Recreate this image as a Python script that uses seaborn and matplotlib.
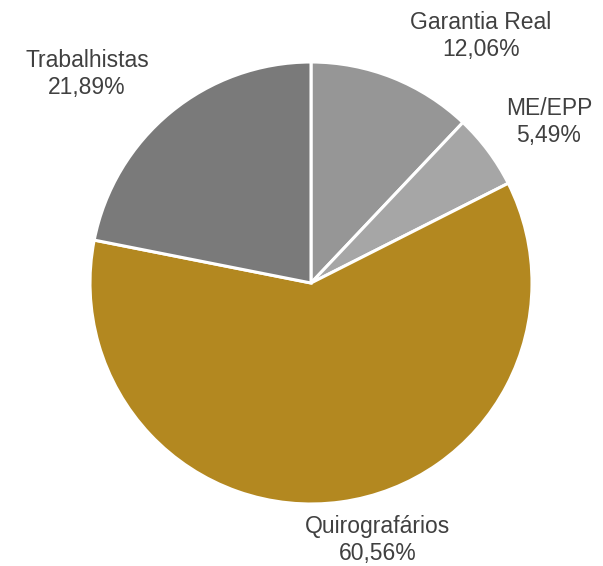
import matplotlib
matplotlib.use("Agg")
import matplotlib.pyplot as plt
import seaborn as sns

categories = ["Garantia Real", "ME/EPP", "Quirografários", "Trabalhistas"]
values = [12.06, 5.49, 60.56, 21.89]
labels_pct = ["12,06%", "5,49%", "60,56%", "21,89%"]
colors = ["#969696", "#a6a6a6", "#b38820", "#7a7a7a"]

sns.set_theme(style="white")
plt.rcParams['font.family'] = ['Liberation Sans', 'DejaVu Sans']

fig = plt.figure(figsize=(6.03, 5.66), dpi=100)
ax = fig.add_axes([90 / 603, (566 - 504) / 566, 442 / 603, 442 / 566])
wedges, _ = ax.pie(values, colors=colors, startangle=90, counterclock=False,
                   wedgeprops=dict(edgecolor="white", linewidth=2.2))
ax.set_xlim(-1, 1)
ax.set_ylim(-1, 1)
ax.set_aspect("equal")

label_pos = [(0.769, 1.118), (1.077, 0.729), (0.303, -1.165), (-1.014, 0.946)]
for cat, pct, (x, y) in zip(categories, labels_pct, label_pos):
    ax.text(x, y, f"{cat}\n{pct}", ha="center", va="center", fontsize=16.5,
            color="#404040", linespacing=1.22, clip_on=False)

fig.savefig("out.png", dpi=100)
